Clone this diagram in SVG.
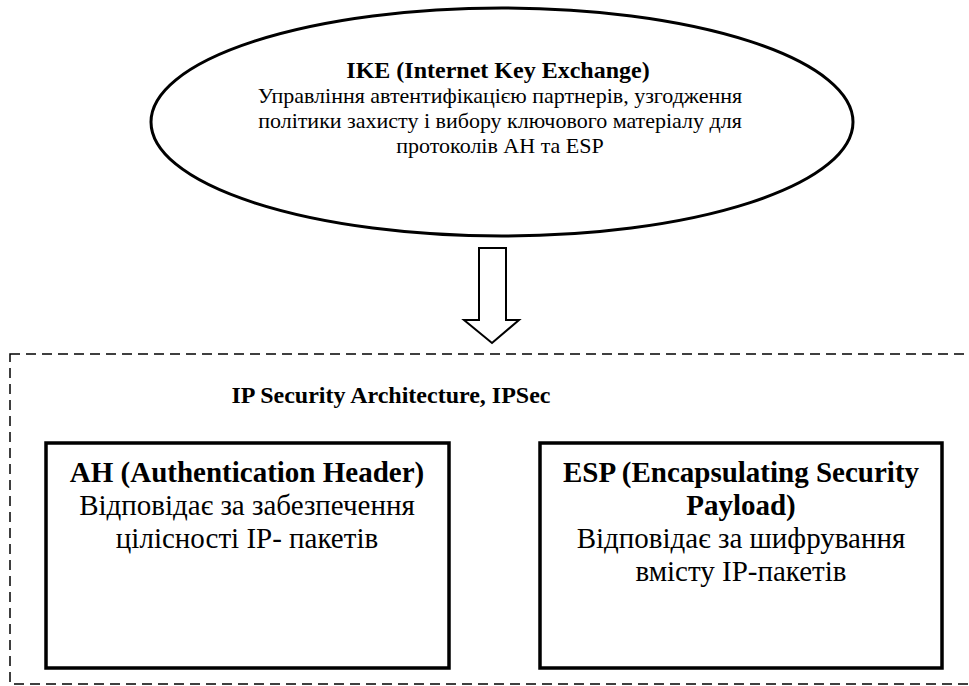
<svg xmlns="http://www.w3.org/2000/svg" width="969" height="686" viewBox="0 0 969 686">
<style>
text{font-family:"Liberation Serif","Times New Roman","DejaVu Serif",serif;fill:#000;text-anchor:middle}
.b{font-weight:bold}
.ike{font-size:22px}
.ikeT{font-size:24px}
.box{fill:#fff;stroke:#000;stroke-width:3.5}
.big{font-size:29px}
</style>
<rect width="969" height="686" fill="#fff"/>
<g id="ike">
<ellipse cx="502" cy="122" rx="351" ry="114" fill="#fff" stroke="#000" stroke-width="3"/>
<text class="b ikeT" x="498" y="78">IKE (Internet Key Exchange)</text>
<text class="ike" x="500" y="103">Управління автентифікацією партнерів, узгодження</text>
<text class="ike" x="500" y="128">політики захисту і вибору ключового матеріалу для</text>
<text class="ike" x="500" y="153">протоколів АН та ESP</text>
</g>
<g id="connectors">
<polygon points="479,248 506,248 506,320 519,320 492,343 464,320 479,320" fill="#fff" stroke="#000" stroke-width="2"/>
</g>
<g id="ipsec">
<rect x="10" y="354" width="970" height="330" fill="none" stroke="#000" stroke-width="1.5" stroke-dasharray="10,6"/>
<text class="b" x="391" y="403" font-size="24">IP Security Architecture, IPSec</text>
</g>
<g id="ah">
<rect class="box" x="46" y="443" width="403" height="225"/>
<text class="b big" x="247" y="482">AH (Authentication Header)</text>
<text class="big" x="247" y="515">Відповідає за забезпечення</text>
<text class="big" x="247" y="548">цілісності IP- пакетів</text>
</g>
<g id="esp">
<rect class="box" x="540" y="443" width="402" height="225"/>
<text class="b big" x="741" y="482">ESP (Encapsulating Security</text>
<text class="b big" x="741" y="515">Payload)</text>
<text class="big" x="741" y="548">Відповідає за шифрування</text>
<text class="big" x="741" y="581">вмісту IP-пакетів</text>
</g>
</svg>
